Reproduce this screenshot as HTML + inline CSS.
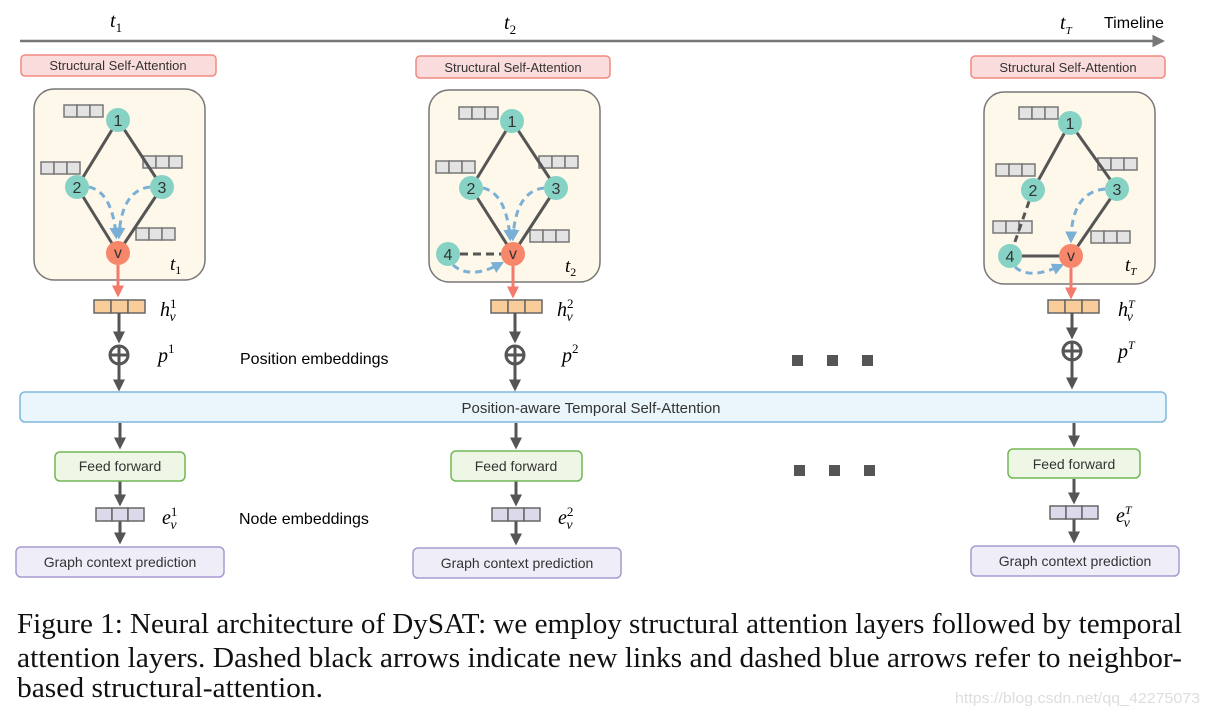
<!DOCTYPE html>
<html><head><meta charset="utf-8"><style>
html,body{margin:0;padding:0;background:#fff;width:1208px;height:718px;overflow:hidden}
svg{display:block}
.sans{font-family:"Liberation Sans",sans-serif}
.m{font-family:"Liberation Serif",serif;font-style:italic}
</style></head><body>
<svg width="1208" height="718" viewBox="0 0 1208 718" xmlns="http://www.w3.org/2000/svg">
<defs>
<marker id="ag" markerWidth="4" markerHeight="4" refX="2.5" refY="2" orient="auto" markerUnits="strokeWidth"><path d="M0,0 L4,2 L0,4 z" fill="#555"/></marker>
<marker id="ar" markerWidth="4" markerHeight="4" refX="2.5" refY="2" orient="auto" markerUnits="strokeWidth"><path d="M0,0 L4,2 L0,4 z" fill="#f47a6b"/></marker>
<marker id="ab" markerWidth="4" markerHeight="4" refX="2.5" refY="2" orient="auto" markerUnits="strokeWidth"><path d="M0,0 L4,2 L0,4 z" fill="#7aafd6"/></marker>
<marker id="at" markerWidth="5" markerHeight="5" refX="3" refY="2.5" orient="auto" markerUnits="strokeWidth"><path d="M0,0 L5,2.5 L0,5 z" fill="#777"/></marker>
<g id="vb"><rect x="0" y="0" width="13" height="12" fill="#e3e3e3" stroke="#777" stroke-width="1.5"/><rect x="13" y="0" width="13" height="12" fill="#e3e3e3" stroke="#777" stroke-width="1.5"/><rect x="26" y="0" width="13" height="12" fill="#e3e3e3" stroke="#777" stroke-width="1.5"/></g>
<g id="hb"><rect x="0" y="0" width="17" height="13" fill="#f9cd9a" stroke="#666" stroke-width="1.5"/><rect x="17" y="0" width="17" height="13" fill="#f9cd9a" stroke="#666" stroke-width="1.5"/><rect x="34" y="0" width="17" height="13" fill="#f9cd9a" stroke="#666" stroke-width="1.5"/></g>
<g id="eb"><rect x="0" y="0" width="16" height="13" fill="#dcdaea" stroke="#666" stroke-width="1.5"/><rect x="16" y="0" width="16" height="13" fill="#dcdaea" stroke="#666" stroke-width="1.5"/><rect x="32" y="0" width="16" height="13" fill="#dcdaea" stroke="#666" stroke-width="1.5"/></g>
</defs>

<line x1="20" y1="41" x2="1160" y2="41" stroke="#777" stroke-width="2.5" marker-end="url(#at)"/>
<text x="110" y="27" class="m" font-size="20">t<tspan font-size="13" dy="5" font-style="normal">1</tspan></text>
<text x="504" y="29" class="m" font-size="20">t<tspan font-size="13" dy="5" font-style="normal">2</tspan></text>
<text x="1060" y="29" class="m" font-size="20">t<tspan font-size="11" dy="5">T</tspan></text>
<text x="1104" y="28" class="sans" font-size="16">Timeline</text>

<g class="sans" font-size="13" fill="#333" text-anchor="middle">
<rect x="21" y="55" width="195" height="21" rx="4" fill="#fbdcdc" stroke="#f08a80" stroke-width="1.5"/>
<text x="118" y="70">Structural Self-Attention</text>
<rect x="416" y="56" width="194" height="22" rx="4" fill="#fbdcdc" stroke="#f08a80" stroke-width="1.5"/>
<text x="513" y="72">Structural Self-Attention</text>
<rect x="971" y="56" width="194" height="22" rx="4" fill="#fbdcdc" stroke="#f08a80" stroke-width="1.5"/>
<text x="1068" y="72">Structural Self-Attention</text>
</g>

<rect x="34" y="89" width="171" height="191" rx="20" fill="#fef8ea" stroke="#777" stroke-width="1.5"/>
<use href="#vb" x="64" y="105"/><use href="#vb" x="41" y="162"/><use href="#vb" x="143" y="156"/><use href="#vb" x="136" y="228"/>
<g stroke="#555" stroke-width="3"><line x1="118" y1="120" x2="77" y2="187"/><line x1="118" y1="120" x2="162" y2="187"/><line x1="77" y1="187" x2="118" y2="253"/><line x1="162" y1="187" x2="118" y2="253"/></g>
<g fill="none" stroke="#7aafd6" stroke-width="3" stroke-dasharray="7,5"><path d="M89,187 Q112,192 116,235" marker-end="url(#ab)"/><path d="M150,187 Q122,190 119,235" marker-end="url(#ab)"/></g>
<g class="sans" font-size="16" text-anchor="middle" fill="#333">
<circle cx="118" cy="120" r="12" fill="#86d3c5"/><text x="118" y="126">1</text>
<circle cx="77" cy="187" r="12" fill="#86d3c5"/><text x="77" y="193">2</text>
<circle cx="162" cy="187" r="12" fill="#86d3c5"/><text x="162" y="193">3</text>
<circle cx="118" cy="253" r="12" fill="#f7876a"/><text x="118" y="258">v</text>
</g>
<text x="170" y="270" class="m" font-size="19">t<tspan font-size="12" dy="4" font-style="normal">1</tspan></text>

<rect x="429" y="90" width="171" height="192" rx="20" fill="#fef8ea" stroke="#777" stroke-width="1.5"/>
<use href="#vb" x="459" y="107"/><use href="#vb" x="436" y="161"/><use href="#vb" x="539" y="156"/><use href="#vb" x="530" y="230"/>
<g stroke="#555" stroke-width="3"><line x1="512" y1="121" x2="471" y2="188"/><line x1="512" y1="121" x2="556" y2="188"/><line x1="471" y1="188" x2="513" y2="254"/><line x1="556" y1="188" x2="513" y2="254"/><line x1="460" y1="254" x2="502" y2="254" stroke-dasharray="8,5"/></g>
<g fill="none" stroke="#7aafd6" stroke-width="3" stroke-dasharray="7,5"><path d="M483,188 Q506,193 510,237" marker-end="url(#ab)"/><path d="M544,188 Q516,191 513,237" marker-end="url(#ab)"/><path d="M453,265 Q470,280 500,264" marker-end="url(#ab)"/></g>
<g class="sans" font-size="16" text-anchor="middle" fill="#333">
<circle cx="512" cy="121" r="12" fill="#86d3c5"/><text x="512" y="127">1</text>
<circle cx="471" cy="188" r="12" fill="#86d3c5"/><text x="471" y="194">2</text>
<circle cx="556" cy="188" r="12" fill="#86d3c5"/><text x="556" y="194">3</text>
<circle cx="448" cy="254" r="12" fill="#86d3c5"/><text x="448" y="260">4</text>
<circle cx="513" cy="254" r="12" fill="#f7876a"/><text x="513" y="259">v</text>
</g>
<text x="565" y="272" class="m" font-size="19">t<tspan font-size="12" dy="4" font-style="normal">2</tspan></text>

<rect x="984" y="92" width="171" height="192" rx="20" fill="#fef8ea" stroke="#777" stroke-width="1.5"/>
<use href="#vb" x="1019" y="107"/><use href="#vb" x="996" y="164"/><use href="#vb" x="1098" y="158"/><use href="#vb" x="993" y="221"/><use href="#vb" x="1091" y="231"/>
<g stroke="#555" stroke-width="3"><line x1="1070" y1="123" x2="1033" y2="190"/><line x1="1070" y1="123" x2="1117" y2="189"/><line x1="1117" y1="189" x2="1071" y2="256"/><line x1="1021" y1="256" x2="1060" y2="256"/><line x1="1033" y1="190" x2="1010" y2="256" stroke-dasharray="7,5"/></g>
<g fill="none" stroke="#7aafd6" stroke-width="3" stroke-dasharray="7,5"><path d="M1105,189 Q1072,192 1071,239" marker-end="url(#ab)"/><path d="M1015,267 Q1030,280 1060,266" marker-end="url(#ab)"/></g>
<g class="sans" font-size="16" text-anchor="middle" fill="#333">
<circle cx="1070" cy="123" r="12" fill="#86d3c5"/><text x="1070" y="129">1</text>
<circle cx="1033" cy="190" r="12" fill="#86d3c5"/><text x="1033" y="196">2</text>
<circle cx="1117" cy="189" r="12" fill="#86d3c5"/><text x="1117" y="195">3</text>
<circle cx="1010" cy="256" r="12" fill="#86d3c5"/><text x="1010" y="262">4</text>
<circle cx="1071" cy="256" r="12" fill="#f7876a"/><text x="1071" y="261">v</text>
</g>
<text x="1125" y="271" class="m" font-size="19">t<tspan font-size="11" dy="4">T</tspan></text>

<g stroke-width="3">
<line x1="118" y1="265" x2="118" y2="293" stroke="#f47a6b" marker-end="url(#ar)"/>
<line x1="513" y1="266" x2="513" y2="294" stroke="#f47a6b" marker-end="url(#ar)"/>
<line x1="1071" y1="268" x2="1071" y2="295" stroke="#f47a6b" marker-end="url(#ar)"/>
</g>
<use href="#hb" x="94" y="300"/><use href="#hb" x="491" y="300"/><use href="#hb" x="1048" y="300"/>
<g stroke="#555" stroke-width="3" fill="none">
<line x1="119" y1="313" x2="119" y2="339" marker-end="url(#ag)"/>
<circle cx="119" cy="355" r="9"/><line x1="110" y1="355" x2="128" y2="355"/><line x1="119" y1="346" x2="119" y2="364"/>
<line x1="119" y1="364" x2="119" y2="387" marker-end="url(#ag)"/>
<line x1="515" y1="313" x2="515" y2="339" marker-end="url(#ag)"/>
<circle cx="515" cy="355" r="9"/><line x1="506" y1="355" x2="524" y2="355"/><line x1="515" y1="346" x2="515" y2="364"/>
<line x1="515" y1="364" x2="515" y2="387" marker-end="url(#ag)"/>
<line x1="1072" y1="313" x2="1072" y2="335" marker-end="url(#ag)"/>
<circle cx="1072" cy="351" r="9"/><line x1="1063" y1="351" x2="1081" y2="351"/><line x1="1072" y1="342" x2="1072" y2="360"/>
<line x1="1072" y1="360" x2="1072" y2="385" marker-end="url(#ag)"/>
</g>
<g class="m" font-size="20">
<text x="160" y="316">h<tspan font-size="13" dy="-8" font-style="normal">1</tspan><tspan font-size="14" dx="-7" dy="13">v</tspan></text>
<text x="557" y="316">h<tspan font-size="13" dy="-8" font-style="normal">2</tspan><tspan font-size="14" dx="-7" dy="13">v</tspan></text>
<text x="1118" y="316">h<tspan font-size="12" dy="-8">T</tspan><tspan font-size="14" dx="-8" dy="13">v</tspan></text>
<text x="158" y="362">p<tspan font-size="13" dy="-9" font-style="normal">1</tspan></text>
<text x="562" y="362">p<tspan font-size="13" dy="-9" font-style="normal">2</tspan></text>
<text x="1118" y="358">p<tspan font-size="12" dy="-9">T</tspan></text>
</g>
<text x="240" y="364" class="sans" font-size="16">Position embeddings</text>
<g fill="#555"><rect x="792" y="355" width="11" height="11"/><rect x="827" y="355" width="11" height="11"/><rect x="862" y="355" width="11" height="11"/>
<rect x="794" y="465" width="11" height="11"/><rect x="829" y="465" width="11" height="11"/><rect x="864" y="465" width="11" height="11"/></g>

<rect x="20" y="392" width="1146" height="30" rx="5" fill="#eaf6fc" stroke="#7fb7dc" stroke-width="1.5"/>
<text x="591" y="413" class="sans" font-size="15" fill="#333" text-anchor="middle">Position-aware Temporal Self-Attention</text>

<g stroke="#555" stroke-width="3">
<line x1="120" y1="423" x2="120" y2="445" marker-end="url(#ag)"/>
<line x1="516" y1="423" x2="516" y2="445" marker-end="url(#ag)"/>
<line x1="1074" y1="423" x2="1074" y2="443" marker-end="url(#ag)"/>
<line x1="120" y1="481" x2="120" y2="502" marker-end="url(#ag)"/>
<line x1="516" y1="481" x2="516" y2="502" marker-end="url(#ag)"/>
<line x1="1074" y1="479" x2="1074" y2="500" marker-end="url(#ag)"/>
<line x1="120" y1="521" x2="120" y2="540" marker-end="url(#ag)"/>
<line x1="516" y1="521" x2="516" y2="541" marker-end="url(#ag)"/>
<line x1="1074" y1="519" x2="1074" y2="539" marker-end="url(#ag)"/>
</g>
<g class="sans" font-size="14" fill="#333" text-anchor="middle">
<rect x="55" y="452" width="130" height="29" rx="5" fill="#eef7e6" stroke="#71b755" stroke-width="1.5"/><text x="120" y="471">Feed forward</text>
<rect x="451" y="451" width="131" height="30" rx="5" fill="#eef7e6" stroke="#71b755" stroke-width="1.5"/><text x="516" y="471">Feed forward</text>
<rect x="1008" y="449" width="132" height="29" rx="5" fill="#eef7e6" stroke="#71b755" stroke-width="1.5"/><text x="1074" y="469">Feed forward</text>
</g>
<use href="#eb" x="96" y="508"/><use href="#eb" x="492" y="508"/><use href="#eb" x="1050" y="506"/>
<g class="m" font-size="20">
<text x="162" y="524">e<tspan font-size="13" dy="-8" font-style="normal">1</tspan><tspan font-size="14" dx="-7" dy="13">v</tspan></text>
<text x="558" y="524">e<tspan font-size="13" dy="-8" font-style="normal">2</tspan><tspan font-size="14" dx="-7" dy="13">v</tspan></text>
<text x="1116" y="522">e<tspan font-size="12" dy="-8">T</tspan><tspan font-size="14" dx="-8" dy="13">v</tspan></text>
</g>
<text x="239" y="524" class="sans" font-size="16">Node embeddings</text>
<g class="sans" font-size="14" fill="#333" text-anchor="middle">
<rect x="16" y="547" width="208" height="30" rx="5" fill="#efedf7" stroke="#a99ad0" stroke-width="1.5"/><text x="120" y="567">Graph context  prediction</text>
<rect x="413" y="548" width="208" height="30" rx="5" fill="#efedf7" stroke="#a99ad0" stroke-width="1.5"/><text x="517" y="568">Graph context  prediction</text>
<rect x="971" y="546" width="208" height="30" rx="5" fill="#efedf7" stroke="#a99ad0" stroke-width="1.5"/><text x="1075" y="566">Graph context  prediction</text>
</g>

<g font-family="'Liberation Serif',serif" font-size="28" fill="#111">
<text x="17" y="633" textLength="1165" lengthAdjust="spacingAndGlyphs">Figure 1: Neural architecture of DySAT: we employ structural attention layers followed by temporal</text>
<text x="17" y="667" textLength="1165" lengthAdjust="spacingAndGlyphs">attention layers. Dashed black arrows indicate new links and dashed blue arrows refer to neighbor-</text>
<text x="17" y="697" textLength="306" lengthAdjust="spacingAndGlyphs">based structural-attention.</text>
</g>
<text x="955" y="703" class="sans" font-size="15" fill="#ddd" textLength="245" lengthAdjust="spacingAndGlyphs">https://blog.csdn.net/qq_42275073</text>
</svg>
</body></html>
